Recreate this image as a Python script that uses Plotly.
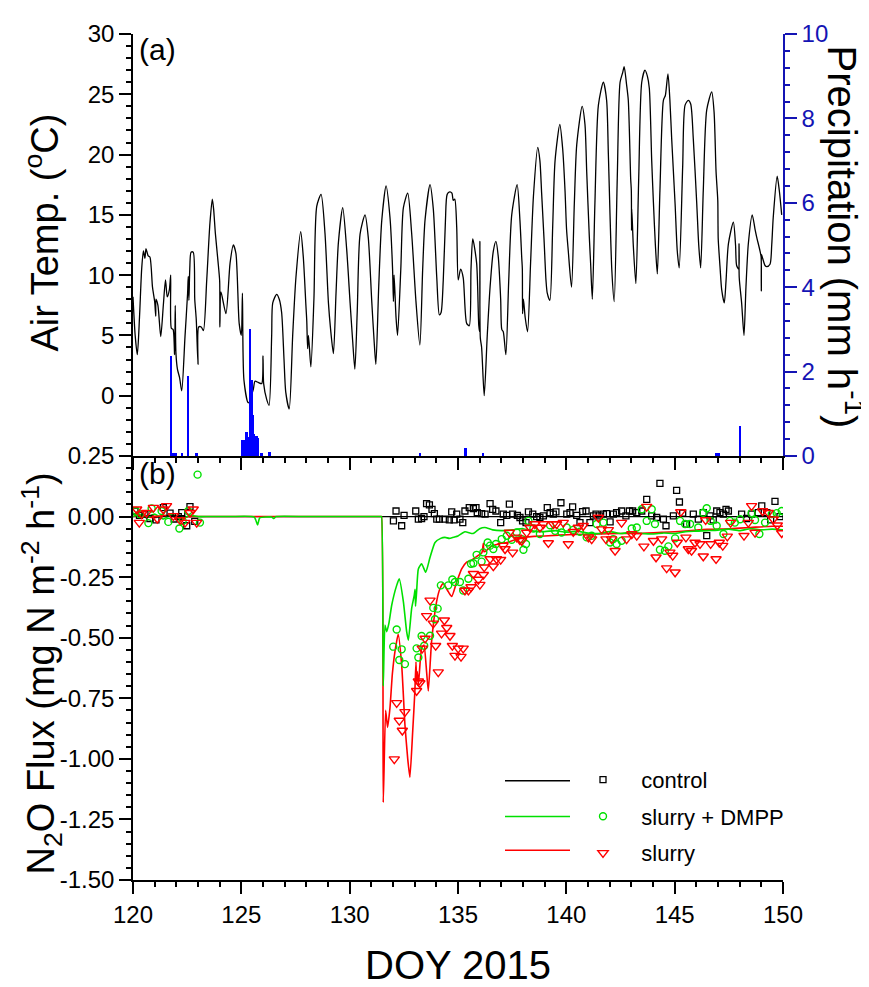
import plotly.graph_objects as go

# ---------------- (a) air temperature (DOY, deg C) ----------------
temp_doy = (
    [120.0, 120.1, 120.2, 120.3, 120.4, 120.48, 120.55, 120.6, 120.7, 120.78, 120.9, 121.0, 121.05, 121.06, 121.15, 121.28]
    + [121.4, 121.5, 121.58, 121.68, 121.74, 121.77, 121.85, 121.92, 121.95, 121.98, 122.05, 122.15, 122.25]
    + [122.4, 122.52, 122.55, 122.58, 122.62, 122.68, 122.78, 122.85, 122.92, 123.0, 123.03, 123.15, 123.25]
    + [123.4, 123.55, 123.66, 123.72, 123.8, 123.92, 124.0, 124.01, 124.06, 124.29]
    + [124.48, 124.63, 124.75, 124.9, 125.0, 125.05, 125.12, 125.32]
    + [125.55, 125.63, 125.78, 125.94, 126.0, 126.03, 126.17, 126.28]
    + [126.4, 126.45, 126.63, 126.75, 126.86, 126.97, 127.05, 127.21]
    + [127.37, 127.52, 127.74, 127.86, 127.98, 128.02, 128.06, 128.1, 128.21]
    + [128.35, 128.48, 128.68, 128.86, 129.02, 129.12, 129.25]
    + [129.37, 129.48, 129.68, 129.86, 130.02, 130.14, 130.24]
    + [130.35, 130.48, 130.71, 130.86, 131.02, 131.13, 131.21]
    + [131.34, 131.48, 131.68, 131.86, 131.98, 132.02, 132.05, 132.14, 132.21]
    + [132.36, 132.48, 132.68, 132.86, 133.06, 133.24]
    + [133.37, 133.48, 133.71, 133.86, 134.02, 134.14]
    + [134.22, 134.32, 134.42, 134.5, 134.62, 134.72, 134.78, 134.85, 134.94, 135.01, 135.12, 135.24, 135.4, 135.52]
    + [135.6, 135.68, 135.86, 135.96, 136.0, 136.01, 136.03, 136.09, 136.21]
    + [136.35, 136.48, 136.63, 136.75, 136.86, 136.97, 137.02, 137.09, 137.21]
    + [137.34, 137.48, 137.73, 137.86, 137.94, 137.97, 137.98, 138.02, 138.1, 138.21]
    + [138.35, 138.48, 138.68, 138.78, 138.86, 138.97, 139.06, 139.12, 139.24]
    + [139.37, 139.48, 139.7, 139.83, 139.94, 140.01, 140.09, 140.24]
    + [140.37, 140.48, 140.73, 140.86, 140.94, 141.06, 141.12, 141.2]
    + [141.32, 141.48, 141.71, 141.86, 141.94, 142.1, 142.21]
    + [142.35, 142.48, 142.6, 142.67, 142.78, 142.86, 142.97, 143.0, 143.01, 143.02, 143.09, 143.21]
    + [143.34, 143.48, 143.63, 143.74, 143.83, 143.94, 144.02, 144.11, 144.2]
    + [144.32, 144.48, 144.57, 144.69, 144.78, 144.86, 145.02, 145.12, 145.21]
    + [145.37, 145.48, 145.63, 145.74, 145.86, 146.02, 146.11, 146.2]
    + [146.32, 146.48, 146.71, 146.82, 146.91, 146.99, 147.0, 147.01, 147.1, 147.17, 147.29]
    + [147.37, 147.48, 147.71, 147.81, 147.86, 147.96, 147.97, 147.98, 148.09, 148.2]
    + [148.29, 148.4, 148.58, 148.71, 148.78, 148.94, 148.99, 149.0, 149.01, 149.06, 149.17, 149.25, 149.4, 149.48, 149.55, 149.73, 149.83, 149.94]
)
temp_c = (
    [8.2, 5.0, 3.4, 6.5, 10.5, 12.0, 11.4, 12.2, 11.6, 11.5, 9.0, 7.8, 6.6, 8.0, 7.5, 4.9]
    + [7.5, 9.6, 8.2, 8.8, 10.0, 5.6, 5.5, 3.4, 7.5, 3.6, 2.2, 1.5, 0.4]
    + [4.9, 8.5, 9.9, 7.9, 10.5, 11.9, 11.9, 8.0, 6.3, 2.6, 5.7, 5.7, 5.4]
    + [9.5, 14.3, 16.3, 15.5, 13.5, 11.2, 9.5, 5.7, 8.6, 6.8]
    + [11.0, 12.5, 11.8, 6.0, 5.0, 8.5, 1.3, -0.6]
    + [0.5, 1.2, 1.1, 1.0, 3.3, 1.0, -0.3, -0.8]
    + [5.0, 7.7, 8.4, 8.0, 6.9, 3.0, 0.3, -1.1]
    + [5.0, 9.8, 13.6, 11.5, 7.5, 6.2, 3.9, 5.0, 2.4]
    + [8.0, 15.7, 16.7, 13.5, 7.7, 5.5, 3.5]
    + [8.5, 12.7, 15.6, 12.2, 7.7, 4.5, 2.2]
    + [7.0, 13.4, 15.0, 13.1, 7.8, 4.5, 2.6]
    + [9.0, 14.5, 17.4, 14.8, 10.5, 7.8, 10.0, 6.5, 5.0]
    + [10.5, 15.6, 16.8, 13.5, 7.8, 4.2]
    + [10.5, 14.6, 17.5, 15.5, 9.8, 6.7]
    + [6.9, 9.6, 14.5, 16.7, 16.9, 16.8, 16.2, 16.3, 14.0, 9.6, 10.5, 9.8, 6.0, 5.8]
    + [10.5, 13.0, 11.0, 5.8, 5.3, 12.8, 4.8, 4.0, 0.0]
    + [5.0, 9.0, 12.0, 12.8, 11.5, 8.0, 5.5, 5.3, 3.4]
    + [9.5, 15.0, 17.5, 14.5, 11.5, 10.5, 6.8, 8.0, 6.5, 5.3]
    + [11.0, 16.5, 20.6, 19.5, 16.8, 13.0, 9.6, 8.5, 7.9]
    + [14.0, 19.5, 22.5, 20.5, 17.0, 13.8, 12.0, 9.0]
    + [16.0, 20.8, 24.0, 22.5, 18.6, 13.2, 11.0, 8.0]
    + [16.0, 24.1, 26.0, 24.5, 20.0, 10.4, 7.8]
    + [18.0, 26.0, 26.8, 27.3, 25.8, 24.5, 18.0, 17.0, 13.7, 15.5, 12.5, 9.3]
    + [18.0, 26.0, 27.0, 26.5, 25.5, 19.5, 16.0, 12.5, 10.1]
    + [17.0, 24.5, 24.9, 26.7, 24.5, 21.4, 15.9, 12.0, 10.6]
    + [19.0, 24.1, 24.5, 24.2, 21.3, 15.9, 12.5, 10.6]
    + [17.0, 23.7, 25.2, 23.5, 18.6, 16.2, 14.3, 13.0, 10.5, 8.8, 7.7]
    + [9.5, 12.6, 14.4, 12.5, 10.8, 10.5, 12.6, 9.8, 7.7, 5.0]
    + [9.0, 12.6, 15.0, 13.8, 13.2, 12.0, 11.5, 8.7, 11.7, 11.4, 10.8, 10.7, 10.9, 12.5, 14.8, 18.2, 17.0, 15.0]
)

# ---------------- (a) precipitation (mm h-1) ----------------
precip_doy = [121.75, 121.86, 121.91, 121.97, 122.28, 122.55, 122.94,
              125.05, 125.12, 125.18, 125.25, 125.29, 125.33, 125.37, 125.42, 125.48, 125.52, 125.58,
              125.63, 125.67, 125.71, 125.75, 125.78, 125.94, 125.98, 126.28, 126.32,
              133.25, 135.35, 136.17, 146.91, 146.98, 147.05, 148.02]
precip_mm = [2.38, 0.07, 0.07, 0.07, 0.07, 1.89, 0.07,
             0.38, 0.38, 0.3, 0.58, 0.45, 0.38, 0.45, 3.01, 1.8, 0.97, 0.52,
             0.38, 0.4, 0.47, 0.42, 0.2, 0.07, 0.07, 0.1, 0.1,
             0.07, 0.2, 0.07, 0.07, 0.07, 0.07, 0.7]

# ---------------- (b) N2O flux: modelled lines ----------------
ctrl_line_doy = [120.0, 150.0]
ctrl_line_flux = [0.0, 0.0]

dmpp_line_doy = [120.0, 120.3, 120.6, 121.0, 121.4, 121.8, 122.2, 122.6, 123.0, 123.5,
                 124.5, 125.6, 125.75, 125.85, 126.4, 126.5, 126.6, 128.0, 130.0, 131.3, 131.44, 131.47,
                 131.55, 131.63, 131.71, 131.81, 131.94, 132.17, 132.29, 132.48, 132.63, 132.71,
                 132.86, 132.98, 133.02, 133.04, 133.09, 133.17, 133.32, 133.51, 133.71, 133.94,
                 134.2, 134.4, 134.6, 134.8, 135.0, 135.32, 135.7, 136.0, 136.24, 136.6,
                 137.0, 137.5, 138.0, 138.5, 139.0, 139.5, 140.0, 140.5, 141.0, 141.5,
                 142.0, 142.5, 143.0, 143.5, 144.0, 144.5, 145.0, 145.5, 146.0, 146.5,
                 147.0, 147.5, 148.0, 148.5, 149.0, 149.5, 150.0]
dmpp_line_flux = [0.0, 0.01, -0.005, 0.01, -0.01, 0.01, -0.015, 0.005, 0.0, 0.0,
                  0.0, -0.002, -0.035, -0.005, -0.002, -0.008, 0.0, 0.0, 0.0, 0.0, 0.0, 0.0,
                  -0.70, -0.448, -0.475, -0.441, -0.366, -0.284, -0.257, -0.352, -0.475, -0.51,
                  -0.38, -0.325, -0.30, -0.37, -0.31, -0.216, -0.195, -0.23, -0.168, -0.107,
                  -0.09, -0.086, -0.09, -0.085, -0.08, -0.063, -0.07, -0.05, -0.045, -0.055,
                  -0.058, -0.055, -0.05, -0.06, -0.062, -0.058, -0.065, -0.06, -0.068, -0.07,
                  -0.062, -0.07, -0.065, -0.07, -0.072, -0.068, -0.07, -0.062, -0.06, -0.058,
                  -0.056, -0.052, -0.058, -0.05, -0.055, -0.052, -0.055]

slurry_line_doy = [120.0, 120.3, 120.6, 121.0, 121.4, 121.8, 122.2, 122.6, 123.0, 124.0,
                   126.0, 128.0, 130.0, 131.3, 131.44, 131.47, 131.55, 131.66, 131.75, 131.86, 131.97, 132.09,
                   132.24, 132.4, 132.55, 132.68, 132.78, 132.91, 133.01, 133.06, 133.09, 133.12,
                   133.17, 133.32, 133.43, 133.55, 133.63, 133.78, 134.01, 134.17, 134.32, 134.55,
                   134.71, 134.94, 135.17, 135.4, 135.63, 135.94, 136.1, 136.17, 136.2, 136.32,
                   136.5, 137.0, 137.25, 138.0, 139.0, 140.3, 141.5, 142.5, 143.4, 144.5,
                   145.5, 146.5, 147.5, 148.5, 149.5, 150.0]
slurry_line_flux = [0.0, 0.005, 0.0, -0.005, 0.005, 0.0, -0.01, 0.0, 0.0, 0.0,
                    0.0, 0.0, 0.0, 0.0, 0.0, 0.0, -1.18, -0.80, -0.87, -0.79, -0.65, -0.557,
                    -0.486, -0.612, -0.858, -1.0, -1.076, -0.885, -0.72, -0.60, -0.68, -0.64,
                    -0.694, -0.544, -0.53, -0.64, -0.72, -0.516, -0.352, -0.297, -0.277, -0.31,
                    -0.33, -0.27, -0.216, -0.188, -0.18, -0.16, -0.15, -0.11, -0.145, -0.14,
                    -0.125, -0.11, -0.107, -0.086, -0.08, -0.074, -0.072, -0.07, -0.07, -0.065,
                    -0.06, -0.053, -0.05, -0.045, -0.04, -0.04]

# ---------------- (b) N2O flux: measurements ----------------
ctrl_doy = [120.09, 120.3, 120.55, 120.78, 121.06, 121.4, 121.71, 121.9, 122.09, 122.25, 122.48, 122.63, 122.85,
            132.02, 132.14, 132.4, 132.51, 133.05, 133.17, 133.32, 133.43, 133.55, 133.68, 133.8, 133.91,
            134.02, 134.14, 134.4, 134.6, 134.71, 134.82, 134.94, 135.09, 135.22, 135.32, 135.52, 135.71,
            135.83, 135.89, 136.09, 136.25, 136.48, 136.6, 136.75, 136.97, 137.09, 137.25, 137.37, 137.52,
            137.74, 137.86, 137.98, 138.14, 138.25, 138.45, 138.63, 138.78, 138.94, 139.12, 139.25, 139.4,
            139.52, 139.75, 140.02, 140.17, 140.29, 140.48, 140.63, 140.75, 140.91, 141.09, 141.25, 141.37,
            141.52, 141.71, 141.86, 142.02, 142.17, 142.32, 142.55, 142.75, 142.91, 143.06, 143.25, 143.48,
            143.71, 143.94, 144.17, 144.32, 144.48, 144.6, 144.94, 145.09, 145.22, 145.37, 145.55, 145.86,
            146.09, 146.32, 146.48, 146.63, 146.78, 146.94, 147.09, 147.25, 147.37, 147.48, 148.09, 148.32,
            148.55, 148.86, 149.02, 149.25, 149.43, 149.63, 149.86]
ctrl_flux = [0.023, 0.005, 0.010, -0.008, -0.014, 0.037, 0.014, -0.01, 0.0, 0.016, -0.038, 0.041, -0.02,
             -0.018, 0.023, -0.038, 0.005, 0.023, -0.011, -0.008, 0.0, 0.053, 0.048, 0.030, 0.012,
             -0.011, -0.011, -0.011, -0.014, 0.019, -0.014, 0.010, -0.011, -0.025, 0.023, 0.037, 0.033,
             0.037, 0.016, 0.012, 0.010, 0.053, 0.030, 0.023, -0.025, 0.010, 0.005, 0.051, 0.010,
             0.005, -0.004, -0.018, -0.025, 0.019, 0.010, 0.0, -0.004, 0.003, 0.037, 0.016, 0.010,
             0.019, 0.057, 0.010, 0.016, 0.040, 0.005, -0.025, 0.020, 0.023, -0.025, 0.003, 0.010,
             0.003, 0.010, 0.012, -0.022, 0.010, 0.016, 0.023, 0.003, 0.023, 0.023, 0.016, 0.023,
             0.071, 0.003, -0.004, 0.137, -0.011, -0.038, 0.003, 0.108, 0.060, 0.014, -0.031, 0.010,
             -0.011, 0.016, -0.079, 0.003, -0.014, 0.023, 0.016, 0.010, 0.030, 0.023, 0.010, -0.008,
             0.010, 0.016, 0.044, 0.016, -0.014, 0.063, 0.0]

dmpp_doy = [120.14, 120.32, 120.71, 120.86, 121.32, 121.63, 122.14, 122.29, 122.55, 122.98, 123.09,
            132.01, 132.17, 132.29, 132.4, 132.55, 133.09, 133.17, 133.32, 133.44, 133.71, 133.86, 133.94,
            134.06, 134.21, 134.55, 134.74, 134.86, 135.09, 135.24, 135.48, 135.6, 135.71, 135.86, 136.09,
            136.17, 136.37, 136.48, 136.63, 136.75, 137.02, 137.25, 137.48, 137.71, 137.94, 138.02, 138.14,
            138.25, 138.48, 138.78, 139.25, 139.48, 139.78, 140.02, 140.32, 140.63, 140.94, 141.17, 141.4,
            141.71, 142.02, 142.17, 142.32, 142.55, 143.02, 143.25, 143.48, 143.71, 143.94, 144.09, 144.32,
            144.55, 144.71, 145.02, 145.25, 145.48, 145.71, 146.09, 146.32, 146.48, 146.66, 146.94, 147.25,
            147.55, 147.78, 148.02, 148.55, 148.71, 148.91, 149.17, 149.48, 149.71, 149.94]
dmpp_flux = [0.023, 0.010, -0.027, 0.033, 0.023, -0.022, -0.049, -0.018, 0.023, 0.173, -0.025,
             -0.537, -0.466, -0.592, -0.548, -0.609, -0.544, -0.582, -0.493, -0.533, -0.492, -0.377, -0.424,
             -0.380, -0.284, -0.284, -0.260, -0.270, -0.270, -0.305, -0.257, -0.195, -0.193, -0.158, -0.186,
             -0.148, -0.107, -0.120, -0.134, -0.113, -0.093, -0.079, -0.096, -0.066, -0.093, -0.137, -0.113,
             -0.018, -0.049, -0.072, -0.036, -0.059, -0.066, -0.045, -0.055, -0.063, -0.086, -0.079, -0.031,
             -0.025, -0.107, -0.093, -0.113, -0.100, -0.049, -0.045, 0.030, -0.018, 0.030, -0.031, -0.137,
             -0.141, -0.123, -0.090, -0.018, -0.031, -0.031, -0.045, 0.016, 0.034, -0.018, -0.038, -0.072,
             -0.018, -0.025, -0.011, 0.014, -0.014, -0.072, -0.025, 0.010, 0.014, 0.023]

slurry_doy = [120.17, 120.29, 120.4, 120.63, 120.94, 121.12, 121.4, 121.55, 121.86, 122.17, 122.4, 122.63, 122.78, 122.94,
              132.06, 132.17, 132.29, 132.43, 132.55, 133.09, 133.17, 133.24, 133.35, 133.48, 133.55, 133.71,
              133.86, 133.97, 134.09, 134.24, 134.37, 134.48, 134.63, 134.74, 134.86, 135.01, 135.14, 135.24,
              135.32, 135.48, 135.6, 135.71, 135.94, 136.01, 136.17, 136.21, 136.48, 136.63, 136.78, 136.97,
              137.08, 137.17, 137.37, 137.52, 137.71, 137.85, 137.94, 138.17, 138.32, 138.55, 138.78, 138.94,
              139.17, 139.4, 139.55, 139.86, 140.09, 140.32, 140.55, 140.78, 141.02, 141.17, 141.48, 141.63,
              141.83, 141.94, 142.09, 142.25, 142.55, 142.78, 143.02, 143.25, 143.58, 143.71, 144.02, 144.14,
              144.4, 144.63, 144.78, 144.91, 145.02, 145.12, 145.28, 145.52, 145.63, 145.78, 145.94, 146.17,
              146.32, 146.43, 146.66, 146.91, 147.06, 147.22, 147.43, 147.58, 148.2, 148.4, 148.55, 148.71,
              149.06, 149.32, 149.55, 149.74, 149.94]
slurry_flux = [0.030, -0.025, 0.010, 0.016, 0.037, -0.008, 0.030, 0.044, 0.003, -0.014, -0.025, 0.016, 0.030, -0.025,
               -1.001, -0.769, -0.842, -0.883, -0.806, -0.719, -0.680, -0.687, -0.544, -0.503, -0.410, -0.346,
               -0.441, -0.533, -0.642, -0.482, -0.428, -0.459, -0.492, -0.533, -0.574, -0.544, -0.578, -0.544,
               -0.305, -0.305, -0.291, -0.236, -0.260, -0.281, -0.240, -0.209, -0.175, -0.205, -0.175, -0.178,
               -0.120, -0.134, -0.066, -0.148, -0.086, -0.096, -0.100, -0.066, -0.045, -0.031, -0.045, -0.031,
               -0.109, -0.031, -0.031, -0.025, -0.113, -0.063, -0.045, -0.038, -0.086, -0.093, -0.004, -0.052,
               -0.093, -0.055, -0.093, -0.141, -0.025, -0.093, -0.072, -0.079, -0.123, 0.041, -0.100, -0.168,
               -0.093, -0.213, -0.148, -0.161, -0.230, -0.107, 0.019, -0.086, -0.134, -0.141, -0.107, -0.113,
               -0.164, -0.014, -0.113, -0.175, -0.107, -0.120, -0.082, -0.025, -0.079, -0.025, 0.044, -0.066,
               0.023, 0.016, -0.011, -0.036, -0.068]

flux_tickvals = [0.25, 0.0, -0.25, -0.5, -0.75, -1.0, -1.25, -1.5]
flux_ticktext = ["0.25", "0.00", "-0.25", "-0.50", "-0.75", "-1.00", "-1.25", "-1.50"]
temp_tickvals = [0, 5, 10, 15, 20, 25, 30]
precip_tickvals = [0, 2, 4, 6, 8, 10]
legend_names = ["control", "slurry + DMPP", "slurry"]

# ---------------- figure ----------------
FONT = "Arial, 'Liberation Sans', sans-serif"
BLUE_AX = "#1414b4"
GREEN = "#00e000"
RED = "#ff0000"
NB = "\u00a0\u00a0\u00a0"

fig = go.Figure()

fig.add_trace(go.Scatter(x=temp_doy, y=temp_c, mode="lines",
                         line=dict(color="black", width=1.3, shape="spline", smoothing=0.7),
                         xaxis="x2", yaxis="y2", showlegend=False, hoverinfo="skip"))
fig.add_trace(go.Bar(x=precip_doy, y=precip_mm, width=0.085, marker=dict(color="#0000ff", line_width=0),
                     xaxis="x2", yaxis="y3", showlegend=False))

fig.add_trace(go.Scatter(x=ctrl_line_doy, y=ctrl_line_flux, mode="lines", line=dict(color="black", width=1.2),
                         showlegend=False))
fig.add_trace(go.Scatter(x=slurry_line_doy, y=slurry_line_flux, mode="lines",
                         line=dict(color=RED, width=1.6, shape="spline", smoothing=0.5), showlegend=False))
fig.add_trace(go.Scatter(x=dmpp_line_doy, y=dmpp_line_flux, mode="lines",
                         line=dict(color=GREEN, width=1.6, shape="spline", smoothing=0.5), showlegend=False))

fig.add_trace(go.Scatter(x=ctrl_doy, y=ctrl_flux, mode="markers", name=NB + legend_names[0], legendgroup="c",
                         marker=dict(symbol="square-open", size=6, color="black", line=dict(width=1.3))))
fig.add_trace(go.Scatter(x=dmpp_doy, y=dmpp_flux, mode="markers", name=NB + legend_names[1], legendgroup="d",
                         marker=dict(symbol="circle-open", size=7, color=GREEN, line=dict(width=1.4))))
fig.add_trace(go.Scatter(x=slurry_doy, y=slurry_flux, mode="markers", name=NB + legend_names[2], legendgroup="s",
                         marker=dict(symbol="triangle-down-open", size=9, color=RED, line=dict(width=1.4))))

tick_common = dict(showline=True, linecolor="black", linewidth=1.5, ticks="outside", ticklen=12,
                   tickwidth=1.5, tickcolor="black", showgrid=False, zeroline=False,
                   tickfont=dict(family=FONT, size=24, color="black"))
minor_common = dict(ticks="outside", ticklen=5, tickwidth=1.5, tickcolor="black", showgrid=False)

Y_SPLIT = 0.5012

# page body has an 8px margin: size and margins are set so the plot lands at the reference position
fig.update_layout(
    width=861, height=979,
    margin=dict(l=125, r=86, t=20, b=107),
    plot_bgcolor="white", paper_bgcolor="white",
    font=dict(family=FONT, color="black"),
    bargap=0,
    xaxis=dict(domain=[0, 1], range=[120, 150], anchor="y", tick0=120, dtick=5,
               minor=dict(dtick=1, **minor_common), **tick_common),
    yaxis=dict(domain=[0, Y_SPLIT], range=[-1.5, 0.25], anchor="x", tickvals=flux_tickvals,
               ticktext=flux_ticktext, minor=dict(tickmode="linear", tick0=0, dtick=0.05, **minor_common),
               **tick_common),
    xaxis2=dict(domain=[0, 1], range=[120, 150], anchor="y2", matches="x", tick0=120, dtick=5,
                showticklabels=False, minor=dict(dtick=1, **minor_common), **tick_common),
    yaxis2=dict(domain=[Y_SPLIT, 1], range=[-5, 30], anchor="x2", tickvals=temp_tickvals,
                minor=dict(tickmode="linear", tick0=0, dtick=1, **minor_common), **tick_common),
    yaxis3=dict(domain=[Y_SPLIT, 1], range=[0, 10], anchor="x2", overlaying="y2", side="right",
                tickvals=precip_tickvals, showline=True, linecolor=BLUE_AX, linewidth=1.5,
                ticks="outside", ticklen=12, tickwidth=1.5, tickcolor=BLUE_AX, showgrid=False,
                zeroline=False, tickfont=dict(family=FONT, size=24, color=BLUE_AX),
                minor=dict(tickmode="linear", tick0=0, dtick=0.4, ticks="outside", ticklen=5,
                           tickwidth=1.5, tickcolor=BLUE_AX)),
    legend=dict(x=(583 - 133) / 650, y=(880 - 758) / 852, xanchor="left", yanchor="top",
                font=dict(family=FONT, size=22, color="black"), bgcolor="rgba(0,0,0,0)",
                traceorder="grouped", tracegroupgap=5),
    showlegend=True,
)

# legend line samples (drawn beside the legend markers)
legend_rows_y = [(880 - 780) / 852, (880 - 816) / 852, (880 - 850) / 852]
legend_line_colors = ["black", GREEN, RED]
for yy, cc in zip(legend_rows_y, legend_line_colors):
    fig.add_shape(type="line", xref="paper", yref="paper", x0=(505 - 133) / 650, x1=(570 - 133) / 650,
                  y0=yy, y1=yy, line=dict(color=cc, width=1.6))

ann = [
    dict(text="(a)", x=(137 - 133) / 650, y=1.003, xanchor="left", yanchor="top", font=dict(size=30)),
    dict(text="(b)", x=(137 - 133) / 650, y=(880 - 452) / 852, xanchor="left", yanchor="top", font=dict(size=30)),
    dict(text="DOY 2015", x=0.5, y=(880 - 966) / 852, xanchor="center", yanchor="middle", font=dict(size=40)),
    dict(text="Air Temp. (<sup>o</sup>C)", x=(42 - 133) / 650, y=(880 - 228) / 852, textangle=-90,
         xanchor="center", yanchor="middle", font=dict(size=38)),
    dict(text="N<sub>2</sub>O Flux (mg N m<sup>-2</sup> h<sup>-1</sup>)", x=(42 - 133) / 650,
         y=(880 - 672) / 852, textangle=-90, xanchor="center", yanchor="middle", font=dict(size=38)),
    dict(text="Precipitation (mm h<sup>-1</sup>)", x=(845 - 133) / 650, y=(880 - 232) / 852, textangle=90,
         xanchor="center", yanchor="middle", font=dict(size=40)),
]
for a in ann:
    a.update(xref="paper", yref="paper", showarrow=False)
    a["font"] = dict(family=FONT, color="black", **a["font"])
    fig.add_annotation(**a)

fig.write_html("out.html")
